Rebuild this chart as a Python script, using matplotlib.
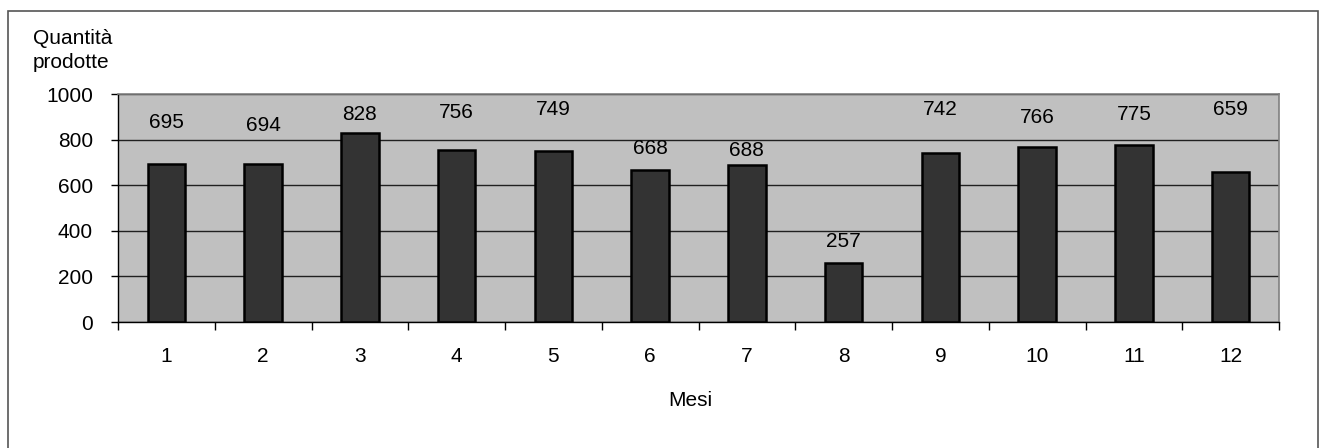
import matplotlib.pyplot as plt
import matplotlib.patches as mpatches
import numpy as np

plt.rcParams['font.family'] = ['Liberation Sans', 'DejaVu Sans']

mesi = ['1', '2', '3', '4', '5', '6', '7', '8', '9', '10', '11', '12']
quantita = [695, 694, 828, 756, 749, 668, 688, 257, 742, 766, 775, 659]
# heights where the value labels sit
label_y = [877, 864, 912, 921, 930, 763, 754, 351, 930, 899, 908, 934]

fs = 15
fig = plt.figure(figsize=(13.19, 4.48), dpi=100)
W, H = 1319, 448
ax = fig.add_axes([118 / W, 1 - 322 / H, (1279 - 118) / W, (322 - 94) / H])

x = np.arange(len(mesi))
ax.set_facecolor('#c0c0c0')
ax.bar(x, quantita, width=0.39, color='#333333', edgecolor='black', linewidth=1.8, zorder=3)

for xi, v, ly in zip(x, quantita, label_y):
    ax.text(xi, ly, str(v), ha='center', va='center', fontsize=fs, color='black', zorder=4)

ax.set_xlim(-0.5, len(mesi) - 0.5)
ax.set_ylim(0, 1000)
ax.set_yticks(range(0, 1001, 200))
ax.yaxis.grid(True, color='#202020', linewidth=1.0, zorder=1)

ax.set_xticks(x)
ax.set_xticklabels(mesi, fontsize=fs)
ax.set_xticks(np.arange(-0.5, len(mesi)), minor=True)
ax.tick_params(axis='x', which='major', length=0, pad=18)
ax.tick_params(axis='x', which='minor', length=6, width=1, direction='out')
ax.tick_params(axis='y', length=5, width=1, direction='out', labelsize=fs, pad=13)

for s in ['top', 'right']:
    ax.spines[s].set_color('#808080')
    ax.spines[s].set_linewidth(1.2)
for s in ['left', 'bottom']:
    ax.spines[s].set_color('black')
    ax.spines[s].set_linewidth(1.0)

fig.text(33 / W, 1 - 29 / H, 'Quantità\nprodotte', ha='left', va='top', fontsize=fs, linespacing=1.35)
fig.text(690 / W, 1 - 400 / H, 'Mesi', ha='center', va='center', fontsize=fs)

# outer chart frame
fig.patches.append(mpatches.Rectangle((8 / W, -0.05), (1318 - 8) / W, 1.05 - 11 / H,
                                      transform=fig.transFigure, fill=False,
                                      edgecolor='#555555', linewidth=1.2))

fig.savefig('out.png', dpi=100)
